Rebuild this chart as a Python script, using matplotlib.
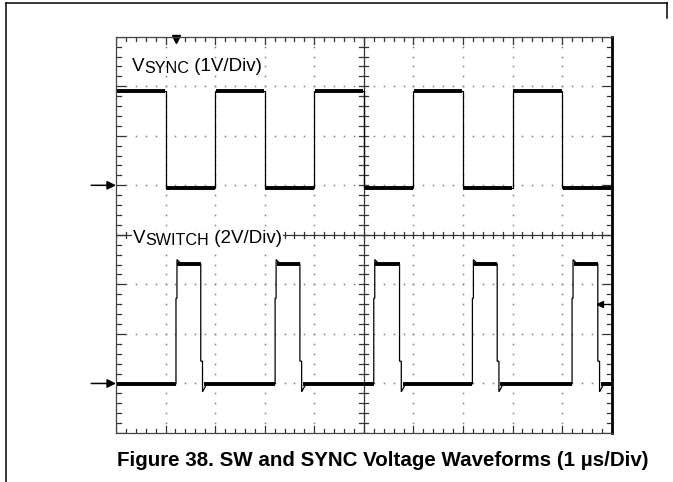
import numpy as np
import matplotlib.pyplot as plt
from matplotlib.lines import Line2D

plt.rcParams['font.family'] = ['Liberation Sans', 'DejaVu Sans']

# scope screen: 10 div x 8 div, 1 us/div
sync_fall = [1.0, 3.0, 5.0, 7.0, 9.0]     # us
sync_rise = [2.0, 4.0, 6.0, 8.0]
sync_high = 1.90     # V
sync_low = -0.06

sw_rise = [1.21, 3.21, 5.20, 7.19, 9.20]  # us
sw_fall = [1.71, 3.71, 5.72, 7.69, 9.72]
sw_high = 4.84       # V
sw_peak = 5.00
sw_shelf_up = 3.44
sw_shelf_dn = 0.90
sw_low = -0.02
sw_under = -0.34

sync_gnd = 5.0   # ground marker, divisions from bottom
sw_gnd = 1.0
sync_vdiv = 1.0
sw_vdiv = 2.0
trig_time = 1.22
trig_level = 2.6


def sync_trace():
    t = [0.0]
    v = [sync_high]
    edges = sorted([(x, sync_high, sync_low) for x in sync_fall] +
                   [(x, sync_low, sync_high) for x in sync_rise])
    for x, a, b in edges:
        t += [x, x]
        v += [a, b]
    t.append(10.0)
    v.append(v[-1])
    return np.array(t), np.array(v)


def sw_trace():
    t = [0.0]
    v = [sw_low]
    for r, f in zip(sw_rise, sw_fall):
        t += [r, r, r + 0.02, r + 0.02, r + 0.1, f, f, f + 0.035, f + 0.035, f + 0.12]
        v += [sw_low, sw_shelf_up, sw_shelf_up, sw_peak, sw_high, sw_high,
              sw_shelf_dn, sw_shelf_dn, sw_under, sw_low]
    t.append(10.0)
    v.append(sw_low)
    return np.array(t), np.array(v)


def channel_label(ax, x, y, sub, rest, bg=False):
    # V with a big subscript, then the scale text
    r = ax.figure.canvas.get_renderer()
    inv = ax.transData.inverted()
    parts = [('V', 13.5, 0.0), (sub, 11.6, -1.7), (' ' + rest, 13.5, 0.0)]
    x0, y0 = ax.transData.transform((x, y))
    for s, size, dy in parts:
        kw = {}
        if bg:
            kw['bbox'] = dict(facecolor='white', edgecolor='none', pad=0.6)
        px, py = inv.transform((x0, y0 + dy))
        t = ax.text(px, py, s, fontsize=size, va='baseline', ha='left', **kw)
        x0 = t.get_window_extent(renderer=r).x1


fig = plt.figure(figsize=(6.73, 4.82), dpi=100)
ax = fig.add_axes([116 / 673, 49 / 482, 495.7 / 673, 396.3 / 482])
ax.set_xlim(0, 10)
ax.set_ylim(0, 8)
ax.set_xticks([])
ax.set_yticks([])
for s in ['left', 'top', 'bottom']:
    ax.spines[s].set_color('#444444')
    ax.spines[s].set_linewidth(0.9)
ax.spines['right'].set_color('black')
ax.spines['right'].set_linewidth(2.0)

# dotted graticule
fine = np.arange(0, 10.01, 0.2)
fine_y = np.arange(0, 8.01, 0.2)
for gx in [1, 2, 3, 4, 6, 7, 8, 9]:
    ax.plot(np.full(len(fine_y), gx), fine_y, ls='none', marker='s', ms=1.1,
            mew=0, color='#808080')
for gy in [1, 2, 3, 5, 6, 7]:
    ax.plot(fine, np.full(len(fine), gy), ls='none', marker='s', ms=1.1,
            mew=0, color='#808080')

# centre cross with ticks
ax.axhline(4, color='#333333', lw=0.9)
ax.axvline(5, color='#333333', lw=0.9)
for x in fine:
    ax.plot([x, x], [3.94, 4.06], color='#333333', lw=0.9)
for y in fine_y:
    ax.plot([4.91, 5.09], [y, y], color='#333333', lw=0.9)

# edge ticks
for i, x in enumerate(fine):
    L = 0.15 if i % 5 == 0 else 0.08
    ax.plot([x, x], [8, 8 - L], color='#333333', lw=0.9)
    ax.plot([x, x], [0, L], color='#333333', lw=0.9)
for i, y in enumerate(fine_y):
    L = 0.18 if i % 5 == 0 else 0.1
    ax.plot([0, L], [y, y], color='#333333', lw=0.9)
    ax.plot([10, 10 - L], [y, y], color='#333333', lw=0.9)

# SYNC trace
t, v = sync_trace()
y = sync_gnd + v / sync_vdiv
ax.plot(t, y, color='black', lw=0.9, solid_joinstyle='miter')
for k in range(0, len(t) - 1, 2):
    ax.plot([t[k] + 0.01, t[k + 1] - 0.01], [y[k], y[k + 1]], color='black', lw=2.8,
            solid_capstyle='butt')

# SWITCH trace
t, v = sw_trace()
y = sw_gnd + v / sw_vdiv
ax.plot(t, y, color='black', lw=0.9, solid_joinstyle='miter')
starts = [0.0] + [f + 0.06 for f in sw_fall]
ends = sw_rise + [10.0]
for a, b in zip(starts, ends):
    ax.plot([a, b], [sw_gnd + sw_low / sw_vdiv] * 2, color='black', lw=2.8,
            solid_capstyle='butt')
for r, f in zip(sw_rise, sw_fall):
    ax.plot([r + 0.03, f], [sw_gnd + sw_high / sw_vdiv] * 2, color='black', lw=2.8,
            solid_capstyle='butt')

# ground and trigger markers
for g in [sync_gnd, sw_gnd]:
    ax.annotate('', xy=(0, g), xytext=(-0.5, g), annotation_clip=False,
                arrowprops=dict(arrowstyle='-|>', color='black', lw=1.1,
                                mutation_scale=13, shrinkA=0, shrinkB=0))
ax.plot([trig_time], [7.95], marker='v', ms=6, color='black', clip_on=False)
ax.plot([9.76, 10], [trig_level, trig_level], color='black', lw=0.9)
ax.plot([9.76], [trig_level], marker='<', ms=4.5, color='black')

# channel labels
channel_label(ax, 0.32, 7.30, 'SYNC', '(1V/Div)')
channel_label(ax, 0.34, 3.83, 'SWITCH', '(2V/Div)', bg=True)

# page frame and caption
fig.add_artist(Line2D([6 / 673, 667 / 673], [1 - 3 / 482] * 2, color='black', lw=1.1))
fig.add_artist(Line2D([6 / 673] * 2, [0, 1 - 3 / 482], color='black', lw=1.1))
fig.add_artist(Line2D([667 / 673] * 2, [1 - 3 / 482, 1 - 18 / 482], color='black', lw=1.1))
fig.text(382.5 / 673, 1 - 461 / 482,
         'Figure 38. SW and SYNC Voltage Waveforms (1 \u00b5s/Div)',
         fontsize=14.8, fontweight='bold', ha='center', va='center')

fig.savefig('out.png', dpi=100)
